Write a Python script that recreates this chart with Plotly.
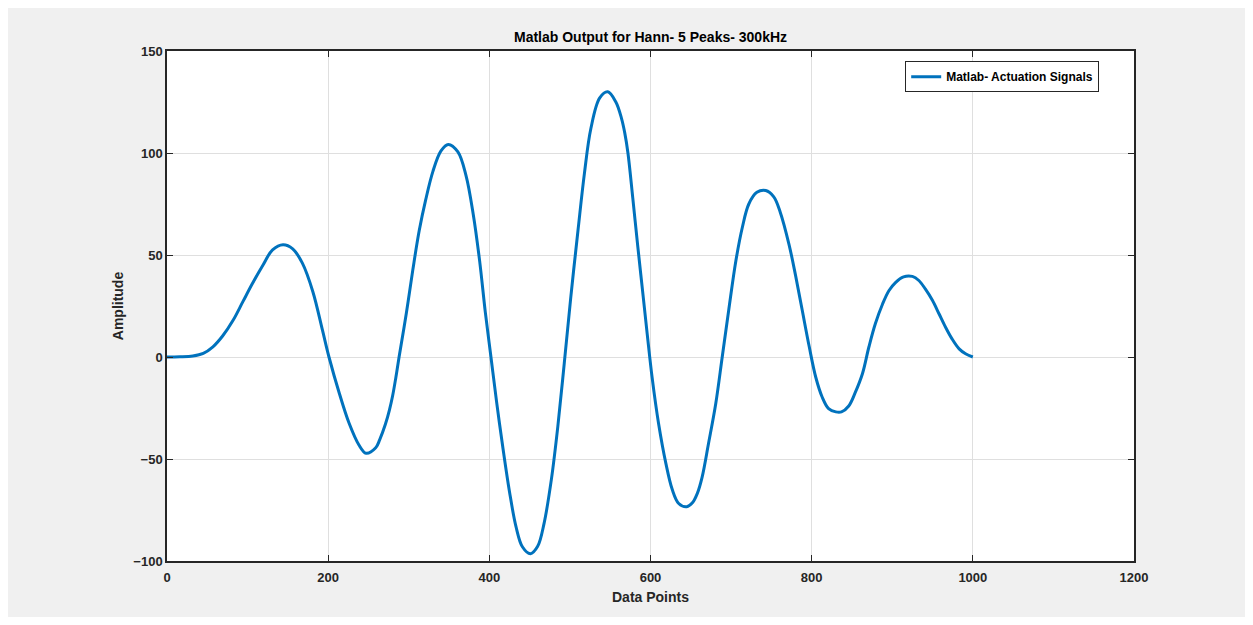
import plotly.graph_objects as go

data_points = [0, 16, 32, 45, 57, 69, 82, 94, 106, 119, 131, 144, 156, 168, 181, 193, 201,
               214, 226, 238, 247, 259, 264, 271, 276, 280, 284, 288, 297, 305, 313, 321, 330, 340,
               349, 361, 371, 380, 388, 395, 402, 409, 417, 425, 433, 441, 451, 460, 468,
               477, 485, 493, 501, 510, 518, 526, 537, 547, 557, 564, 568, 572, 578, 584, 590,
               596, 602, 610, 619, 627, 635, 645, 652, 658, 664, 672, 681, 689, 697, 706, 714, 722,
               732, 743, 753, 761, 772, 780, 788, 797, 805, 813, 821, 830, 837, 846, 854,
               863, 871, 879, 888, 896, 904, 914, 925, 933, 941, 950, 958, 966, 974, 983,
               991, 1000]
amplitude = [0, 0.1, 0.5, 1.8, 5, 10.3, 18, 27, 36, 45, 52.5, 55, 53, 46, 32, 13, 0,
             -18, -32.5, -43, -47.2, -44.5, -40.5, -33, -26, -19, -10, 0, 21.4, 42.6, 62, 77, 91, 101,
             104.2, 100.5, 89, 70, 47, 22, 0, -22, -45, -66, -83, -93, -96.4, -92.8, -81.4,
             -60, -34, -3, 29, 62, 90, 112, 127, 130, 125, 117, 110, 100, 78, 55, 33,
             11, -10, -32.6, -52, -65, -71.8, -73.4, -71.5, -67, -59, -42.4, -22.8, 0, 22.8, 47.3, 63.6, 75,
             80.7, 81.6, 78.5, 71, 55, 40, 23.5, 5, -9.8, -19.6, -25.3, -26.9, -26.9, -24, -17.5,
             -8.2, 4.9, 16.3, 26, 32.6, 36.5, 39.3, 39.5, 37.5, 33.4, 27.7, 21.2, 14.7, 9, 4,
             1.6, 0]

series_name = "Matlab- Actuation Signals"
x_ticks = [0, 200, 400, 600, 800, 1000, 1200]
y_ticks = [-100, -50, 0, 50, 100, 150]

fig = go.Figure()
fig.add_trace(go.Scatter(
    x=data_points, y=amplitude, mode="lines", name=series_name,
    line=dict(color="#0072BD", width=3, shape="spline", smoothing=1.0),
))

FONT = "Liberation Sans, Arial"
axis_common = dict(
    showline=True, linecolor="#262626", linewidth=1.5, mirror="allticks",
    ticks="inside", ticklen=6, tickcolor="#262626",
    showgrid=True, gridcolor="#dfdfdf", gridwidth=1, zeroline=False,
    tickfont=dict(family=FONT, size=13, color="#262626", weight="bold"),
)

W, H = 1237, 609
L, T = 159, 43
PW, PH = 967, 510

fig.update_layout(
    width=W, height=H,
    paper_bgcolor="#f0f0f0", plot_bgcolor="white",
    margin=dict(l=L, r=W - L - PW, t=T, b=H - T - PH, autoexpand=False),
    title=dict(text="<b>Matlab Output for Hann- 5 Peaks- 300kHz</b>",
               x=(L + PW / 2) / W, xanchor="center", y=1 - 29 / H, yanchor="middle",
               font=dict(family=FONT, size=14, color="black")),
    xaxis=dict(range=[0, 1200], tickvals=x_ticks, ticklabelstandoff=4,
               title=dict(text="<b>Data Points</b>", standoff=8,
                          font=dict(family=FONT, size=14, color="#262626")),
               **axis_common),
    yaxis=dict(range=[-100, 150], tickvals=y_ticks,
               title=dict(text="<b>Amplitude</b>", standoff=6,
                          font=dict(family=FONT, size=14, color="#262626")),
               **axis_common),
    showlegend=True,
    legend=dict(x=0.964, y=0.98, xanchor="right", yanchor="top",
                bgcolor="white", bordercolor="#262626", borderwidth=1,
                font=dict(family=FONT, size=12, color="black", weight="bold"),
                itemwidth=30, tracegroupgap=0),
)

fig.write_html("out.html")
